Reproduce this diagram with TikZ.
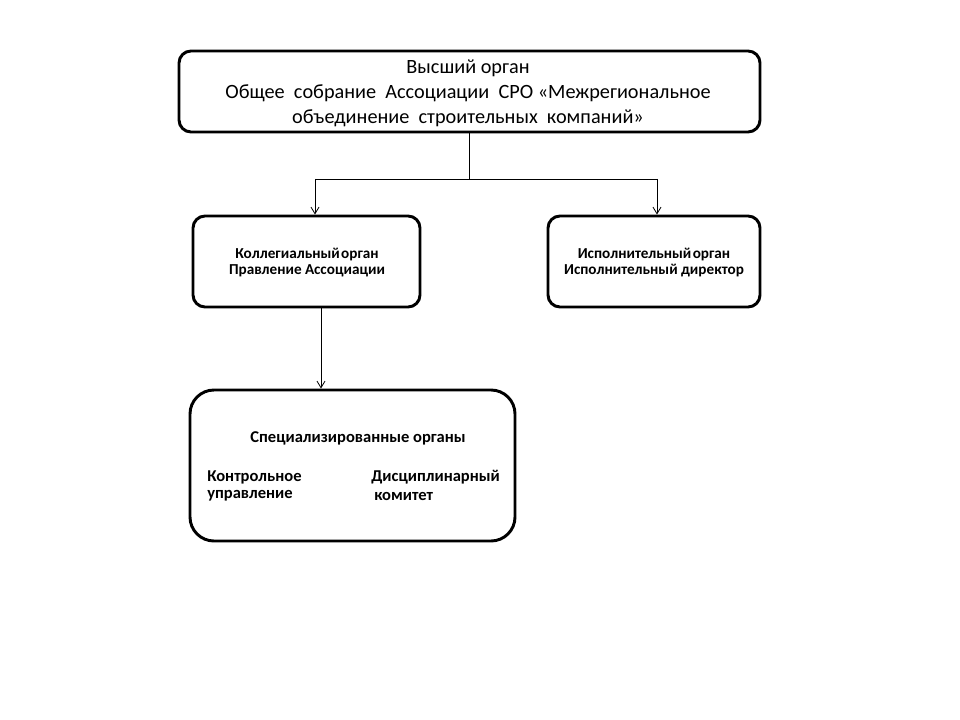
\documentclass[tikz,border=0pt]{standalone}
\usepackage{fontspec}
\setmainfont{Carlito}
\usetikzlibrary{arrows.meta}
\begin{document}
\begin{tikzpicture}[x=0.75pt,y=-0.75pt,
  box/.style={draw,line width=2.2pt,rounded corners=9pt,inner sep=0pt},
  arr/.style={line width=0.6pt,-{Straight Barb[length=5pt,width=6pt,line width=0.6pt]}},
  conn/.style={line width=0.6pt},
  toptext/.style={font=\fontsize{15.2}{18.75}\selectfont,align=center},
  midtext/.style={font=\fontsize{11.4}{12}\selectfont\bfseries,align=center},
  bottext/.style={font=\fontsize{12.4}{14}\selectfont\bfseries,anchor=west,inner sep=0pt}]
\useasboundingbox (0,0) rectangle (960,720);
\node[box,minimum width=435.75pt,minimum height=60.75pt] (top) at (469.5,91.5) {};
\node[toptext] (toplabel) at (468,93) {Высший орган\\Общее\ \ собрание\ \ Ассоциации\ \ СРО\ «Межрегиональное\\объединение\ \ строительных\ \ компаний»};
\node[box,minimum width=170.25pt,minimum height=68.25pt] (left) at (306.5,261.5) {};
\node[midtext] (leftlabel) at (307,262.5) {Коллегиальный\hspace{1pt}орган\\Правление Ассоциации};
\node[box,minimum width=159pt,minimum height=68.25pt] (right) at (654,261.5) {};
\node[midtext] (rightlabel) at (654,262.5) {Исполнительный\hspace{1pt}орган\\Исполнительный директор};
\node[box,rounded corners=18pt,minimum width=243.75pt,minimum height=113.25pt] (bottom) at (352.5,465.5) {};
\node[bottext,anchor=center] (spec) at (358,438) {Специализированные органы};
\node[bottext] (k1) at (207,477) {Контрольное};
\node[bottext] (k2) at (207,496) {управление};
\node[bottext] (d1) at (371,477) {Дисциплинарный};
\node[bottext] (d2) at (374,496) {комитет};
\coordinate (j) at (469,179);
\coordinate (jl) at (315,179);
\coordinate (jr) at (657,179);
\coordinate (dl) at (321,307);
\draw[conn] (j |- top.south) -- (j);
\draw[conn] (jl) -- (jr);
\draw[arr] (jl) -- (jl |- left.north);
\draw[arr] (jr) -- (jr |- right.north);
\draw[arr] (dl |- left.south) -- (dl |- bottom.north);
\end{tikzpicture}
\end{document}
